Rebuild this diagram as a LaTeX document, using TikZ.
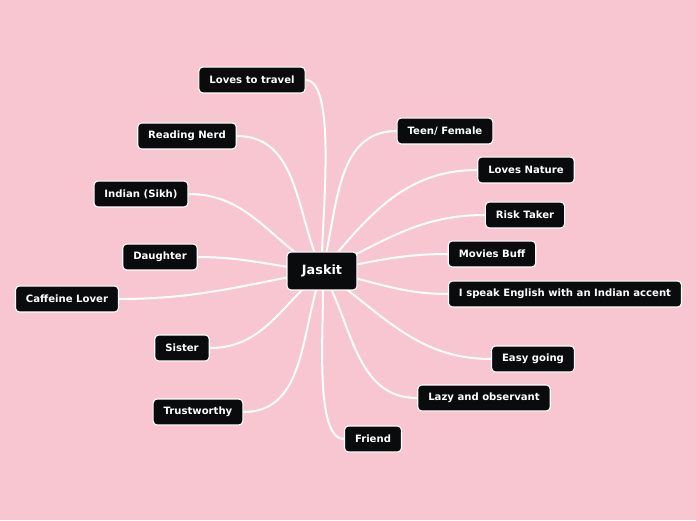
\documentclass[tikz,border=0pt]{standalone}
\usepackage{fontspec}
\setmainfont{DejaVu Sans}
\usepackage{tikz}
\usetikzlibrary{positioning}
\definecolor{mmpink}{HTML}{F8C6D0}
\definecolor{mmblack}{HTML}{0A0B0D}
\pgfdeclarelayer{bg}
\pgfsetlayers{bg,main}

\begin{document}
\begin{tikzpicture}[
    x=1pt, y=1pt,
    topic/.style={rectangle, draw=white, fill=mmblack, line width=1.1pt, rounded corners=4pt, text=white, font=\bfseries\fontsize{10.1}{12}\selectfont, minimum height=26pt, inner xsep=10.5pt},
    root/.style={topic, font=\bfseries\fontsize{12.8}{14}\selectfont, minimum height=38pt, minimum width=70pt},
    branch/.style={draw=white, line width=2pt}
]
\node[root] (jaskit) at (322,249) {Jaskit};
\node[topic] (travel) at (252,440) {Loves to travel};
\node[topic] (nerd) at (187,384) {Reading Nerd};
\node[topic] (sikh) at (141,326) {Indian (Sikh)};
\node[topic] (daughter) at (160,263) {Daughter};
\node[topic] (caffeine) at (67,221) {Caffeine Lover};
\node[topic] (sister) at (182,172) {Sister};
\node[topic] (trust) at (198,108) {Trustworthy};
\node[topic] (friend) at (373,81) {Friend};
\node[topic] (lazy) at (484,122) {Lazy and observant};
\node[topic] (easy) at (533,161) {Easy going};
\node[topic] (accent) at (565,226) {I speak English with an Indian accent};
\node[topic] (movies) at (492,266) {Movies Buff};
\node[topic] (risk) at (525,305) {Risk Taker};
\node[topic] (nature) at (526,350) {Loves Nature};
\node[topic] (teen) at (445,389) {Teen/ Female};
\begin{pgfonlayer}{bg}
\fill[mmpink] (0,0) rectangle (696,520);
% left side
\draw[branch] (jaskit.center) to[out=94, in=0, looseness=0.45] (travel.east);
\draw[branch] (jaskit.center) to[out=115, in=0] (nerd.east);
\draw[branch] (jaskit.center) to[out=150, in=0] (sikh.east);
\draw[branch] (jaskit.center) to[out=175, in=0] (daughter.east);
\draw[branch] (jaskit.center) to[out=190, in=0] (caffeine.east);
\draw[branch] (jaskit.center) to[out=220, in=0] (sister.east);
\draw[branch] (jaskit.center) to[out=250, in=0] (trust.east);
% right side
\draw[branch] (jaskit.center) to[out=278, in=180, looseness=0.5] (friend.west);
\draw[branch] (jaskit.center) to[out=300, in=180] (lazy.west);
\draw[branch] (jaskit.center) to[out=325, in=180] (easy.west);
\draw[branch] (jaskit.center) to[out=350, in=180] (accent.west);
\draw[branch] (jaskit.center) to[out=10, in=180] (movies.west);
\draw[branch] (jaskit.center) to[out=25, in=180] (risk.west);
\draw[branch] (jaskit.center) to[out=50, in=180] (nature.west);
\draw[branch] (jaskit.center) to[out=75, in=180] (teen.west);
\end{pgfonlayer}
\end{tikzpicture}
\end{document}
